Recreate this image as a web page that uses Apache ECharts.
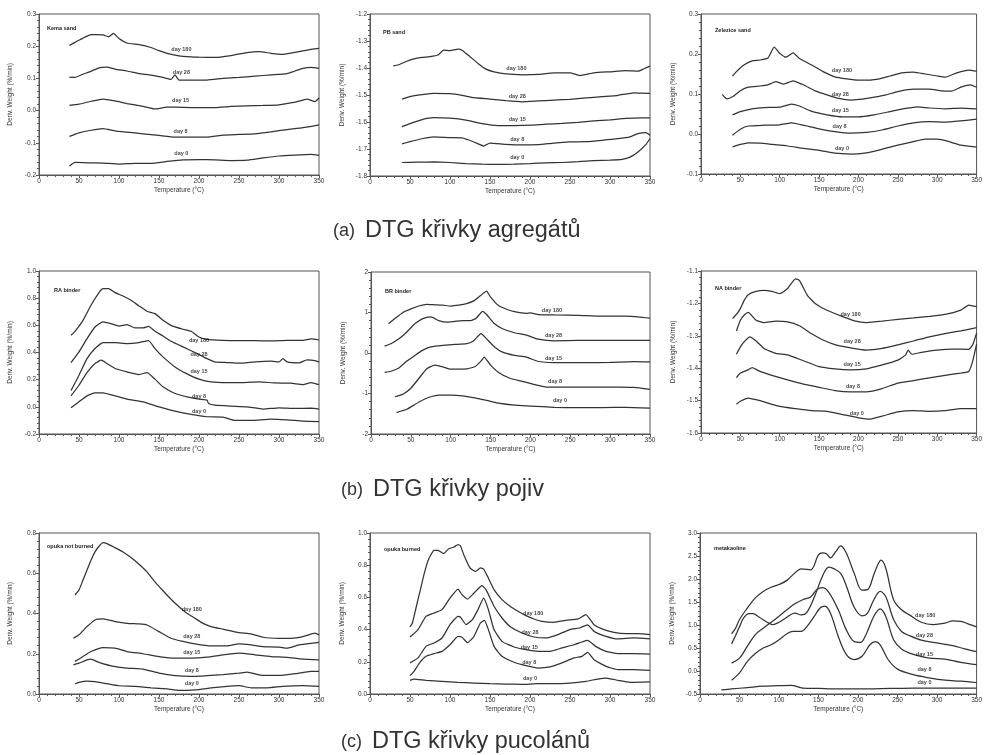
<!DOCTYPE html>
<html>
<head>
<meta charset="utf-8">
<script src="https://cdn.jsdelivr.net/npm/echarts@6/dist/echarts.min.js"></script>
<style>html,body{margin:0;padding:0;background:#fff;}#c{width:985px;height:755px;}</style>
</head>
<body>
<div id="c"></div>
<script>
// ---------- data ----------
const days = ['day 180', 'day 28', 'day 15', 'day 8', 'day 0'];
const plotNames = ['Kema sand', 'PB sand', 'Zelezice sand', 'RA binder', 'BR binder', 'NA binder', 'opuka not burned', 'opuka burned', 'metakaoline'];
const captions = [['(a)', 'DTG křivky agregátů'], ['(b)', 'DTG křivky pojiv'], ['(c)', 'DTG křivky pucolánů']];
const xTicks = [0, 50, 100, 150, 200, 250, 300, 350];

// Kema sand
const kema180 = [[38,0.202],[45,0.212],[51,0.22],[58,0.229],[65,0.236],[72,0.236],[80,0.235],[87,0.229],[93,0.24],[100,0.224],[110,0.21],[125,0.205],[140,0.196],[150,0.186],[160,0.178],[175,0.17],[190,0.167],[200,0.166],[220,0.165],[240,0.171],[260,0.18],[275,0.183],[290,0.178],[305,0.175],[320,0.181],[335,0.188],[350,0.193]];
const kema28 = [[38,0.104],[45,0.103],[55,0.113],[65,0.122],[75,0.133],[85,0.135],[95,0.129],[110,0.123],[125,0.115],[140,0.11],[155,0.103],[165,0.097],[170,0.111],[175,0.095],[190,0.095],[210,0.095],[230,0.1],[250,0.103],[270,0.107],[290,0.111],[310,0.115],[320,0.123],[330,0.131],[340,0.134],[350,0.131]];
const kema15 = [[38,0.016],[50,0.02],[65,0.029],[80,0.036],[95,0.03],[110,0.022],[130,0.013],[145,0.005],[160,0.011],[180,0.01],[200,0.009],[220,0.009],[240,0.013],[260,0.015],[280,0.016],[300,0.018],[320,0.026],[335,0.036],[345,0.028],[350,0.039]];
const kema8 = [[38,-0.08],[50,-0.069],[65,-0.061],[80,-0.056],[95,-0.063],[110,-0.067],[130,-0.072],[150,-0.077],[170,-0.082],[190,-0.082],[210,-0.082],[230,-0.076],[250,-0.074],[270,-0.072],[290,-0.066],[310,-0.059],[330,-0.053],[350,-0.044]];
const kema0 = [[38,-0.172],[45,-0.161],[60,-0.162],[80,-0.163],[100,-0.166],[120,-0.164],[140,-0.164],[160,-0.158],[180,-0.153],[200,-0.152],[220,-0.153],[240,-0.155],[260,-0.154],[280,-0.147],[300,-0.141],[320,-0.138],[340,-0.136],[350,-0.139]];
const kemaLab = [[178,0.19],[178,0.117],[177,0.032],[177,-0.064],[178,-0.134]];

// PB sand
const pb180 = [[29,-1.392],[35,-1.389],[45,-1.376],[55,-1.366],[65,-1.361],[75,-1.358],[85,-1.352],[92,-1.334],[100,-1.336],[110,-1.33],[115,-1.334],[125,-1.358],[135,-1.383],[145,-1.404],[155,-1.414],[170,-1.422],[190,-1.425],[210,-1.424],[230,-1.418],[250,-1.418],[262,-1.428],[280,-1.418],[300,-1.414],[320,-1.41],[335,-1.412],[343,-1.402],[350,-1.393]];
const pb28 = [[40,-1.515],[50,-1.506],[65,-1.499],[80,-1.494],[100,-1.495],[115,-1.501],[130,-1.51],[150,-1.515],[170,-1.521],[190,-1.525],[210,-1.522],[230,-1.519],[250,-1.516],[270,-1.511],[290,-1.506],[310,-1.501],[330,-1.492],[350,-1.494]];
const pb15 = [[40,-1.617],[50,-1.606],[65,-1.591],[80,-1.584],[100,-1.586],[120,-1.593],[140,-1.606],[160,-1.613],[180,-1.613],[200,-1.612],[220,-1.608],[240,-1.605],[260,-1.601],[280,-1.596],[300,-1.592],[320,-1.587],[340,-1.585],[350,-1.585]];
const pb8 = [[40,-1.681],[50,-1.673],[65,-1.662],[80,-1.655],[100,-1.658],[115,-1.659],[130,-1.674],[142,-1.689],[150,-1.678],[170,-1.683],[190,-1.685],[210,-1.684],[230,-1.678],[250,-1.674],[270,-1.673],[290,-1.668],[310,-1.662],[325,-1.655],[335,-1.643],[345,-1.639],[350,-1.649]];
const pb0 = [[40,-1.75],[60,-1.749],[80,-1.748],[100,-1.75],[120,-1.754],[140,-1.756],[160,-1.757],[180,-1.756],[200,-1.754],[220,-1.751],[240,-1.75],[260,-1.747],[280,-1.743],[300,-1.741],[315,-1.738],[325,-1.73],[335,-1.711],[345,-1.683],[350,-1.661]];
const pbLab = [[183,-1.4],[184,-1.507],[184,-1.59],[184,-1.666],[184,-1.73]];

// Zelezice sand
const zel180 = [[40,0.145],[45,0.156],[55,0.173],[65,0.183],[75,0.185],[85,0.19],[93,0.217],[100,0.202],[108,0.192],[117,0.203],[125,0.189],[140,0.173],[155,0.156],[170,0.143],[185,0.138],[200,0.135],[215,0.135],[225,0.137],[240,0.145],[255,0.153],[270,0.155],[285,0.15],[300,0.145],[310,0.142],[325,0.153],[340,0.16],[350,0.157]];
const zel28 = [[27,0.099],[30,0.092],[33,0.088],[40,0.093],[50,0.108],[60,0.117],[75,0.12],[85,0.123],[95,0.131],[105,0.125],[117,0.133],[130,0.123],[145,0.108],[160,0.098],[175,0.089],[190,0.085],[205,0.087],[220,0.092],[235,0.098],[250,0.106],[270,0.112],[290,0.112],[305,0.108],[318,0.107],[330,0.117],[342,0.123],[350,0.117]];
const zel15 = [[40,0.048],[50,0.056],[65,0.063],[80,0.066],[100,0.067],[115,0.075],[125,0.07],[140,0.057],[160,0.048],[180,0.043],[200,0.043],[220,0.048],[240,0.056],[260,0.064],[275,0.068],[290,0.065],[310,0.063],[330,0.065],[350,0.063]];
const zel8 = [[40,-0.003],[50,0.012],[60,0.02],[80,0.022],[100,0.023],[115,0.028],[130,0.022],[150,0.013],[170,0.006],[190,0.002],[210,0.004],[230,0.01],[250,0.02],[270,0.028],[290,0.031],[310,0.03],[330,0.033],[350,0.037]];
const zel0 = [[40,-0.032],[50,-0.026],[60,-0.022],[75,-0.023],[90,-0.026],[110,-0.03],[130,-0.036],[150,-0.041],[170,-0.048],[190,-0.05],[210,-0.047],[230,-0.038],[250,-0.028],[270,-0.019],[285,-0.013],[300,-0.013],[315,-0.019],[330,-0.028],[350,-0.033]];
const zelLab = [[179,0.16],[177,0.099],[177,0.06],[176,0.02],[179,-0.036]];

// RA binder
const ra180 = [[40,0.527],[45,0.556],[55,0.637],[65,0.748],[75,0.841],[80,0.87],[87,0.87],[95,0.841],[105,0.816],[115,0.784],[125,0.743],[135,0.704],[145,0.686],[155,0.637],[165,0.6],[180,0.571],[190,0.556],[200,0.514],[210,0.497],[230,0.49],[250,0.488],[270,0.488],[290,0.485],[310,0.49],[330,0.49],[340,0.5],[350,0.492]];
const ra28 = [[40,0.326],[50,0.405],[60,0.502],[70,0.588],[80,0.625],[90,0.612],[100,0.595],[110,0.605],[120,0.581],[130,0.581],[137,0.593],[145,0.556],[155,0.522],[165,0.483],[180,0.441],[195,0.4],[210,0.355],[220,0.331],[235,0.326],[250,0.321],[270,0.331],[290,0.336],[300,0.331],[305,0.355],[310,0.331],[325,0.324],[335,0.346],[345,0.341],[350,0.331]];
const ra15 = [[40,0.12],[50,0.233],[60,0.355],[70,0.429],[80,0.473],[95,0.473],[110,0.466],[125,0.473],[137,0.488],[145,0.429],[155,0.368],[170,0.294],[185,0.243],[200,0.204],[215,0.184],[235,0.179],[255,0.179],[275,0.184],[295,0.176],[315,0.174],[330,0.164],[340,0.179],[350,0.164]];
const ra8 = [[40,0.081],[50,0.159],[60,0.252],[70,0.319],[78,0.343],[85,0.319],[95,0.282],[110,0.257],[125,0.238],[135,0.252],[145,0.204],[155,0.147],[170,0.098],[185,0.074],[200,0.056],[210,0.049],[212,0.025],[220,0.012],[240,0.005],[260,0.0],[280,-0.017],[300,-0.007],[320,-0.012],[340,-0.01],[350,-0.017]];
const ra0 = [[40,-0.007],[50,0.037],[60,0.081],[70,0.103],[80,0.103],[95,0.081],[110,0.056],[130,0.037],[150,0.0],[170,-0.032],[190,-0.056],[210,-0.073],[230,-0.076],[245,-0.1],[265,-0.1],[290,-0.091],[310,-0.096],[330,-0.105],[350,-0.109]];
const raLab = [[200,0.49],[200,0.387],[200,0.257],[200,0.073],[200,-0.037]];

// BR binder
const br180 = [[22,0.72],[30,0.85],[40,1.0],[50,1.09],[60,1.16],[70,1.2],[80,1.19],[90,1.18],[100,1.16],[110,1.18],[120,1.22],[130,1.3],[140,1.46],[145,1.53],[150,1.38],[160,1.17],[170,1.08],[180,1.02],[195,0.98],[200,0.99],[210,0.95],[230,0.94],[260,0.93],[290,0.91],[320,0.91],[340,0.88],[350,0.86]];
const br28 = [[17,0.17],[25,0.23],[35,0.35],[45,0.52],[55,0.72],[65,0.85],[75,0.89],[85,0.8],[95,0.76],[105,0.78],[115,0.8],[125,0.8],[132,0.86],[140,1.03],[145,0.95],[155,0.72],[165,0.6],[180,0.5],[195,0.44],[210,0.34],[230,0.3],[260,0.31],[290,0.31],[320,0.31],[350,0.31]];
const br15 = [[17,-0.48],[25,-0.45],[35,-0.37],[45,-0.2],[55,-0.06],[65,0.07],[75,0.15],[90,0.19],[105,0.21],[120,0.23],[128,0.29],[138,0.48],[145,0.35],[155,0.15],[165,0.02],[180,-0.06],[195,-0.1],[210,-0.21],[240,-0.24],[270,-0.24],[300,-0.23],[330,-0.21],[350,-0.22]];
const br8 = [[30,-1.08],[40,-1.02],[50,-0.87],[60,-0.63],[70,-0.39],[80,-0.3],[90,-0.34],[100,-0.4],[110,-0.4],[120,-0.39],[130,-0.34],[138,-0.2],[142,-0.1],[150,-0.3],[160,-0.48],[175,-0.63],[190,-0.7],[205,-0.78],[220,-0.84],[250,-0.84],[280,-0.84],[310,-0.84],[330,-0.85],[350,-0.9]];
const br0 = [[32,-1.47],[45,-1.39],[55,-1.27],[65,-1.16],[75,-1.08],[85,-1.04],[100,-1.04],[115,-1.06],[130,-1.11],[145,-1.17],[160,-1.24],[180,-1.29],[200,-1.31],[230,-1.34],[260,-1.35],[290,-1.35],[320,-1.34],[350,-1.36]];
const brLab = [[227,1.06],[229,0.44],[229,-0.14],[231,-0.7],[237,-1.18]];

// NA binder
const na180 = [[40,-1.247],[45,-1.234],[50,-1.216],[55,-1.19],[60,-1.173],[70,-1.163],[80,-1.16],[90,-1.163],[100,-1.17],[110,-1.154],[120,-1.124],[125,-1.129],[135,-1.175],[145,-1.2],[160,-1.221],[180,-1.241],[195,-1.254],[210,-1.259],[230,-1.255],[250,-1.249],[270,-1.245],[290,-1.24],[310,-1.234],[330,-1.221],[340,-1.205],[350,-1.21]];
const na28 = [[45,-1.285],[50,-1.252],[55,-1.236],[60,-1.228],[70,-1.252],[80,-1.259],[95,-1.255],[110,-1.257],[125,-1.269],[140,-1.293],[155,-1.313],[170,-1.327],[190,-1.337],[210,-1.344],[230,-1.339],[250,-1.328],[270,-1.316],[290,-1.303],[310,-1.293],[330,-1.285],[350,-1.275]];
const na15 = [[45,-1.357],[50,-1.334],[55,-1.318],[62,-1.303],[70,-1.316],[80,-1.339],[95,-1.354],[110,-1.359],[130,-1.377],[150,-1.395],[170,-1.402],[190,-1.405],[210,-1.402],[230,-1.39],[250,-1.375],[260,-1.359],[263,-1.344],[268,-1.357],[280,-1.351],[300,-1.344],[320,-1.341],[340,-1.342],[345,-1.328],[350,-1.292]];
const na8 = [[45,-1.429],[50,-1.415],[60,-1.405],[65,-1.398],[75,-1.41],[90,-1.422],[110,-1.436],[130,-1.449],[150,-1.459],[170,-1.469],[190,-1.473],[210,-1.473],[230,-1.463],[250,-1.446],[270,-1.438],[290,-1.43],[310,-1.422],[330,-1.415],[340,-1.41],[345,-1.379],[350,-1.326]];
const na0 = [[45,-1.511],[50,-1.502],[60,-1.492],[70,-1.497],[80,-1.504],[100,-1.518],[120,-1.525],[140,-1.531],[160,-1.533],[180,-1.543],[200,-1.553],[215,-1.557],[230,-1.548],[250,-1.535],[270,-1.531],[290,-1.533],[310,-1.531],[330,-1.525],[350,-1.525]];
const naLab = [[190,-1.234],[192,-1.318],[192,-1.387],[193,-1.457],[198,-1.54]];

// opuka not burned
const onb180 = [[45,0.492],[50,0.517],[55,0.566],[60,0.616],[65,0.665],[70,0.706],[75,0.734],[80,0.752],[85,0.747],[95,0.727],[105,0.706],[115,0.678],[125,0.645],[135,0.607],[145,0.557],[155,0.513],[165,0.471],[175,0.434],[185,0.401],[195,0.376],[205,0.351],[215,0.335],[230,0.322],[250,0.305],[265,0.299],[280,0.282],[300,0.277],[315,0.277],[330,0.285],[345,0.302],[350,0.294]];
const onb28 = [[43,0.277],[50,0.294],[60,0.335],[70,0.368],[80,0.373],[95,0.36],[110,0.351],[125,0.348],[135,0.343],[150,0.31],[165,0.277],[180,0.261],[195,0.249],[215,0.239],[235,0.239],[250,0.249],[265,0.244],[280,0.236],[300,0.233],[310,0.228],[325,0.244],[340,0.252],[350,0.256]];
const onb15 = [[45,0.162],[55,0.186],[65,0.211],[80,0.231],[95,0.228],[110,0.211],[130,0.2],[150,0.186],[170,0.178],[190,0.178],[210,0.183],[230,0.195],[250,0.203],[270,0.195],[290,0.186],[310,0.182],[330,0.173],[350,0.17]];
const onb8 = [[43,0.145],[50,0.153],[60,0.17],[65,0.173],[75,0.157],[90,0.14],[110,0.129],[130,0.124],[150,0.104],[170,0.091],[190,0.087],[210,0.091],[230,0.096],[250,0.104],[260,0.109],[280,0.092],[300,0.092],[320,0.101],[340,0.112],[350,0.112]];
const onb0 = [[45,0.051],[50,0.058],[60,0.064],[70,0.061],[85,0.051],[100,0.041],[120,0.038],[140,0.031],[160,0.025],[175,0.018],[195,0.021],[215,0.03],[235,0.038],[250,0.041],[265,0.031],[285,0.031],[305,0.038],[330,0.041],[350,0.038]];
const onbLab = [[191,0.418],[191,0.285],[191,0.206],[191,0.117],[191,0.051]];

// opuka burned
const ob180 = [[50,0.416],[53,0.441],[58,0.545],[63,0.648],[68,0.752],[73,0.834],[80,0.892],[85,0.892],[92,0.872],[98,0.901],[105,0.913],[110,0.928],[113,0.921],[118,0.855],[125,0.783],[132,0.762],[138,0.783],[142,0.776],[148,0.72],[155,0.648],[165,0.586],[175,0.545],[185,0.514],[195,0.487],[205,0.466],[215,0.451],[230,0.445],[245,0.458],[260,0.466],[270,0.493],[280,0.43],[290,0.404],[305,0.383],[320,0.375],[335,0.375],[350,0.369]];
const ob28 = [[50,0.354],[60,0.4],[70,0.482],[80,0.503],[90,0.524],[100,0.596],[110,0.652],[115,0.617],[122,0.59],[130,0.627],[140,0.673],[145,0.648],[155,0.545],[165,0.472],[175,0.42],[190,0.379],[205,0.354],[220,0.348],[235,0.369],[250,0.4],[262,0.41],[272,0.43],[280,0.389],[295,0.358],[310,0.342],[330,0.348],[350,0.342]];
const ob15 = [[50,0.193],[60,0.224],[70,0.296],[80,0.317],[90,0.348],[100,0.431],[110,0.482],[113,0.478],[120,0.431],[128,0.462],[135,0.524],[142,0.596],[148,0.524],[155,0.4],[165,0.327],[180,0.292],[195,0.275],[210,0.265],[225,0.265],[240,0.286],[255,0.306],[265,0.323],[272,0.333],[282,0.296],[295,0.265],[310,0.251],[330,0.251],[350,0.248]];
const ob8 = [[50,0.114],[55,0.141],[62,0.193],[70,0.234],[80,0.251],[90,0.265],[100,0.306],[110,0.358],[115,0.352],[122,0.319],[130,0.358],[138,0.441],[143,0.458],[148,0.4],[155,0.296],[165,0.234],[180,0.197],[195,0.176],[210,0.161],[225,0.168],[240,0.193],[255,0.224],[265,0.234],[272,0.259],[280,0.213],[295,0.172],[310,0.151],[330,0.151],[350,0.147]];
const ob0 = [[50,0.085],[55,0.093],[70,0.085],[90,0.079],[110,0.072],[130,0.068],[150,0.064],[170,0.062],[190,0.06],[210,0.064],[230,0.064],[250,0.068],[270,0.079],[285,0.093],[295,0.099],[310,0.085],[325,0.072],[350,0.075]];
const obLab = [[204,0.503],[200,0.383],[199,0.29],[199,0.197],[200,0.099]];

// metakaoline
const mk180 = [[40,0.81],[45,0.93],[50,1.12],[60,1.37],[70,1.59],[80,1.73],[90,1.82],[100,1.88],[110,1.97],[120,2.13],[128,2.22],[140,2.2],[150,2.53],[155,2.57],[160,2.55],[165,2.46],[172,2.6],[178,2.72],[185,2.57],[195,2.13],[205,1.76],[212,1.77],[220,2.1],[225,2.31],[229,2.41],[235,2.24],[245,1.55],[255,1.33],[265,1.22],[280,1.06],[295,1.01],[310,1.04],[320,1.09],[330,1.08],[340,1.02],[350,0.96]];
const mk28 = [[40,0.59],[45,0.77],[50,0.96],[55,1.15],[62,1.25],[67,1.25],[75,1.17],[85,1.06],[92,1.01],[100,1.06],[110,1.17],[120,1.26],[128,1.22],[135,1.27],[145,1.62],[155,2.06],[163,2.26],[170,2.22],[178,2.12],[185,1.86],[195,1.39],[205,1.2],[212,1.26],[220,1.55],[228,1.73],[235,1.62],[245,1.12],[255,0.86],[265,0.77],[280,0.67],[300,0.61],[320,0.55],[335,0.48],[350,0.42]];
const mk15 = [[40,0.17],[50,0.28],[60,0.54],[70,0.79],[80,0.93],[90,1.06],[100,1.19],[110,1.33],[120,1.46],[130,1.55],[140,1.61],[148,1.77],[155,1.81],[163,1.71],[175,1.33],[185,0.9],[195,0.64],[203,0.62],[210,0.79],[220,1.19],[228,1.35],[235,1.19],[245,0.68],[255,0.48],[270,0.36],[290,0.28],[310,0.26],[330,0.19],[350,0.14]];
const mk8 = [[40,-0.2],[50,-0.04],[60,0.21],[70,0.38],[80,0.5],[90,0.57],[100,0.68],[110,0.81],[118,0.86],[128,0.86],[135,0.96],[145,1.2],[152,1.37],[158,1.41],[165,1.26],[175,0.75],[185,0.36],[195,0.25],[205,0.32],[215,0.57],[222,0.64],[228,0.57],[238,0.25],[250,0.04],[270,-0.08],[290,-0.15],[310,-0.2],[330,-0.22],[350,-0.25]];
const mk0 = [[27,-0.41],[40,-0.39],[60,-0.36],[80,-0.33],[100,-0.32],[115,-0.31],[130,-0.37],[150,-0.38],[180,-0.39],[210,-0.39],[240,-0.38],[270,-0.37],[300,-0.37],[330,-0.37],[350,-0.37]];
const mkLab = [[285,1.2],[284,0.77],[284,0.36],[284,0.03],[284,-0.26]];

// y-axis ranges [min, max, interval, decimals]
const yRanges = [[-0.2,0.3,0.1,1],[-1.8,-1.2,0.1,1],[-0.1,0.3,0.1,1],[-0.2,1.0,0.2,1],[-2,2,1,0],[-1.6,-1.1,0.1,1],[0,0.8,0.2,1],[0,1.0,0.2,1],[-0.5,3.0,0.5,1]];

const seriesSets = [
  [kema180,kema28,kema15,kema8,kema0],
  [pb180,pb28,pb15,pb8,pb0],
  [zel180,zel28,zel15,zel8,zel0],
  [ra180,ra28,ra15,ra8,ra0],
  [br180,br28,br15,br8,br0],
  [na180,na28,na15,na8,na0],
  [onb180,onb28,onb15,onb8,onb0],
  [ob180,ob28,ob15,ob8,ob0],
  [mk180,mk28,mk15,mk8,mk0]
];
const labelSets = [kemaLab,pbLab,zelLab,raLab,brLab,naLab,onbLab,obLab,mkLab];

// ---------- layout ----------
const FONT = '"Liberation Sans", Arial, sans-serif';
const grids = [
  [39,14,280,161],[370,14,280,162],[701,14,279,160],
  [39,271,280,163],[371,272,279,162],[701,271,279,162],
  [39,533,280,161],[370,533,280,161],[700,533,280,161]
];
const titlePos = [[42,20],[378,24],[710,22],[49,282],[380,283],[710,280],[42,538],[379,541],[709,540]];
const capPos = [[328,214],[336,473],[336,725]];
const LINE = '#333';
const AX = '#555';

const option = {
  animation: false,
  backgroundColor: '#fff',
  textStyle: { fontFamily: FONT },
  grid: [], xAxis: [], yAxis: [], series: [], title: []
};

grids.forEach((g, i) => {
  option.grid.push({ left: g[0], top: g[1], width: g[2], height: g[3], show: true, borderColor: AX, borderWidth: 1, backgroundColor: 'transparent', containLabel: false });
  option.xAxis.push({
    gridIndex: i, type: 'value', min: xTicks[0], max: xTicks[xTicks.length - 1], interval: xTicks[1] - xTicks[0],
    axisLine: { show: true, onZero: false, lineStyle: { color: AX, width: 1 } },
    axisTick: { show: true, length: 3, lineStyle: { color: AX } },
    minorTick: { show: true, splitNumber: 5, length: 2, lineStyle: { color: AX } },
    splitLine: { show: false },
    axisLabel: { fontSize: 6.5, color: '#333', margin: 3, fontFamily: FONT },
    name: 'Temperature (°C)', nameLocation: 'middle', nameGap: 12,
    nameTextStyle: { fontSize: 6.5, color: '#333', fontFamily: FONT }
  });
  const r = yRanges[i];
  option.yAxis.push({
    gridIndex: i, type: 'value', min: r[0], max: r[1], interval: r[2],
    axisLine: { show: true, onZero: false, lineStyle: { color: AX, width: 1 } },
    axisTick: { show: true, length: 3, lineStyle: { color: AX } },
    minorTick: { show: true, splitNumber: 5, length: 2, lineStyle: { color: AX } },
    splitLine: { show: false },
    axisLabel: { fontSize: 6.5, color: '#333', margin: 3, fontFamily: FONT, formatter: v => Number(v).toFixed(r[3]) },
    name: 'Deriv. Weight (%/min)', nameLocation: 'middle', nameGap: (i % 3 === 0) ? 25 : 24, nameRotate: 90,
    nameTextStyle: { fontSize: 6.5, color: '#333', fontFamily: FONT }
  });
  option.title.push({
    text: plotNames[i], left: titlePos[i][0], top: titlePos[i][1],
    textStyle: { fontSize: 5.5, fontWeight: 'bold', color: '#222', fontFamily: FONT }
  });
  const smooth = i === 8 ? 0.35 : 0.15;
  seriesSets[i].forEach((d, k) => {
    option.series.push({
      type: 'line', name: plotNames[i] + ' ' + days[k], xAxisIndex: i, yAxisIndex: i,
      data: d, showSymbol: false, smooth: smooth,
      lineStyle: { color: LINE, width: 1.25 }, z: 2
    });
  });
  option.series.push({
    type: 'scatter', xAxisIndex: i, yAxisIndex: i, symbolSize: 0, z: 3,
    data: labelSets[i].map((p, k) => ({ value: p, name: days[k] })),
    label: { show: true, position: 'inside', formatter: p => p.name, fontSize: 5.5, fontWeight: 'bold', color: '#111', fontFamily: FONT },
    silent: true
  });
});

captions.forEach((c, i) => {
  option.title.push({
    text: '{s|' + c[0] + '}  {b|' + c[1] + '}', left: capPos[i][0], top: capPos[i][1],
    textStyle: { fontWeight: 'normal', rich: {
      s: { fontSize: 18, color: '#333', fontWeight: 'normal', fontFamily: FONT },
      b: { fontSize: 23.5, color: '#333', fontWeight: 'normal', fontFamily: FONT }
    } }
  });
});

const chart = echarts.init(document.getElementById('c'), null, { renderer: 'canvas' });
chart.setOption(option);
</script>
</body>
</html>
